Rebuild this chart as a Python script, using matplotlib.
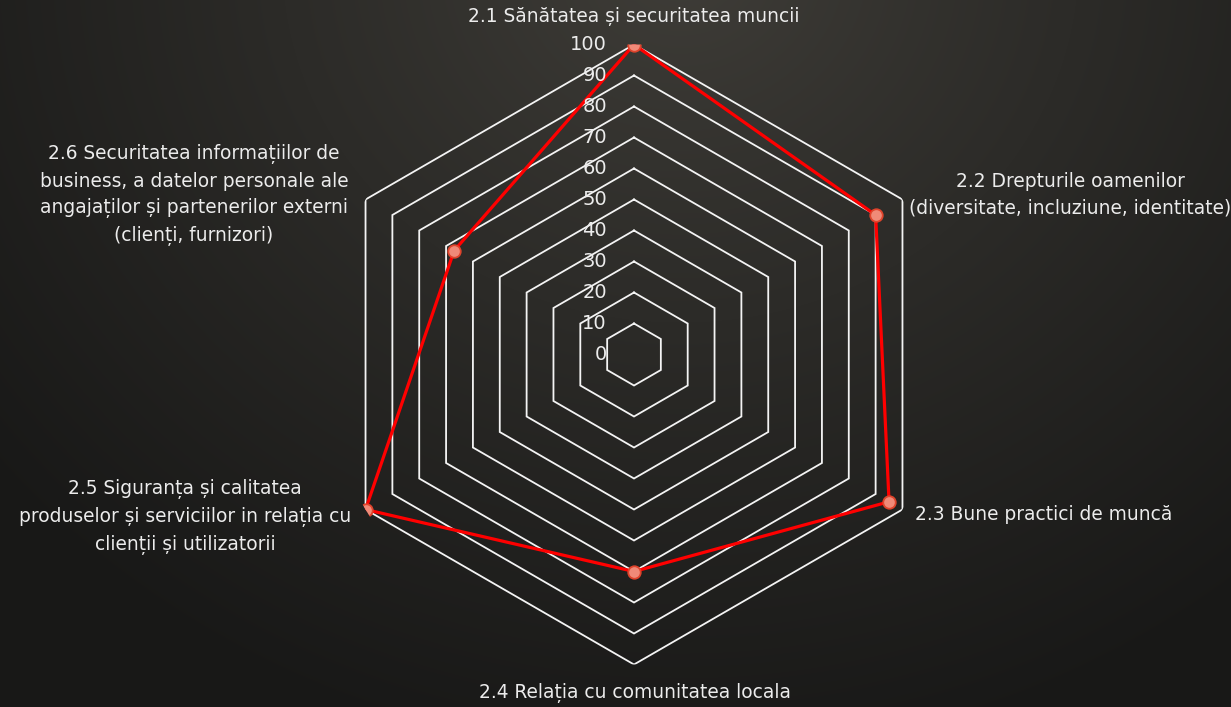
import numpy as np
import matplotlib
matplotlib.use("Agg")
import matplotlib.pyplot as plt
from matplotlib.transforms import offset_copy

# ---- data ----
categories = [
    "2.1 Sănătatea și securitatea muncii",
    "2.2 Drepturile oamenilor\n(diversitate, incluziune, identitate)",
    "2.3 Bune practici de muncă",
    "2.4 Relația cu comunitatea locala",
    "2.5 Siguranța și calitatea\nproduselor și serviciilor in relația cu\nclienții și utilizatorii",
    "2.6 Securitatea informațiilor de\nbusiness, a datelor personale ale\nangajaților și partenerilor externi\n(clienți, furnizori)",
]
values = [100, 90, 95, 70, 100, 67]
ring_levels = [10, 20, 30, 40, 50, 60, 70, 80, 90, 100]
tick_labels = ["0", "10", "20", "30", "40", "50", "60", "70", "80", "90", "100"]
tick_values = [0, 10, 20, 30, 40, 50, 60, 70, 80, 90, 100]

W, H = 1231, 707
fig = plt.figure(figsize=(W / 100, H / 100), dpi=100)

# ---- background gradient ----
bg = fig.add_axes([0, 0, 1, 1], zorder=-10)
yy, xx = np.mgrid[0:H, 0:W]
d = np.sqrt((xx - 680.0) ** 2 + ((yy + 40.0) * 1.1) ** 2)
t = np.clip(d / 900.0, 0, 1) ** 0.85
c0 = np.array([64, 62, 57]) / 255.0
c1 = np.array([24, 24, 23]) / 255.0
img = c0[None, None, :] * (1 - t[..., None]) + c1[None, None, :] * t[..., None]
bg.imshow(img, extent=[0, 1, 0, 1], aspect="auto", origin="upper")
bg.axis("off")

# ---- radar axes ----
cx, cy, R = 634.0, 354.5, 310.0
ax = fig.add_axes([(cx - R) / W, (H - cy - R) / H, 2 * R / W, 2 * R / H],
                  projection="polar")
ax.set_facecolor("none")
ax.set_theta_offset(np.pi / 2)
ax.set_theta_direction(-1)
ax.set_ylim(0, 100)
ax.grid(False)
ax.spines["polar"].set_visible(False)
ax.set_xticks([])
ax.set_yticks([])

n = len(categories)
theta = np.arange(n) * 2 * np.pi / n
theta_c = np.append(theta, theta[0])

for lvl in ring_levels:
    ax.plot(theta_c, [lvl] * (n + 1), color="#f4f4f4", lw=1.3, zorder=1,
            solid_joinstyle="miter")

vals_c = np.append(values, values[0])
ax.plot(theta_c, vals_c, color="#ff0000", lw=2.3, zorder=3)
ax.plot(theta, values, linestyle="none", marker="o", markersize=9,
        markerfacecolor="#f08a78", markeredgecolor="#e0442c",
        markeredgewidth=1.3, zorder=4)

txt_color = "#ececec"
font = "DejaVu Sans"
tr = offset_copy(ax.transData, fig=fig, x=-27, y=0, units="dots")
for v, lab in zip(tick_values, tick_labels):
    ax.text(0, v, lab, transform=tr, ha="right", va="center",
            fontsize=14, color=txt_color, family=font, zorder=5)

# ---- category labels ----
label_pos = [
    (634, 17, "center"),
    (1070, 195, "center"),
    (915, 515, "left"),
    (635, 693, "center"),
    (185, 517, "center"),
    (194, 195, "center"),
]
for lab, (x, y, ha) in zip(categories, label_pos):
    fig.text(x / W, 1 - y / H, lab, ha=ha, va="center", multialignment="center",
             fontsize=13.4, color=txt_color, family=font, linespacing=1.52)

fig.savefig("out.png", dpi=100)
